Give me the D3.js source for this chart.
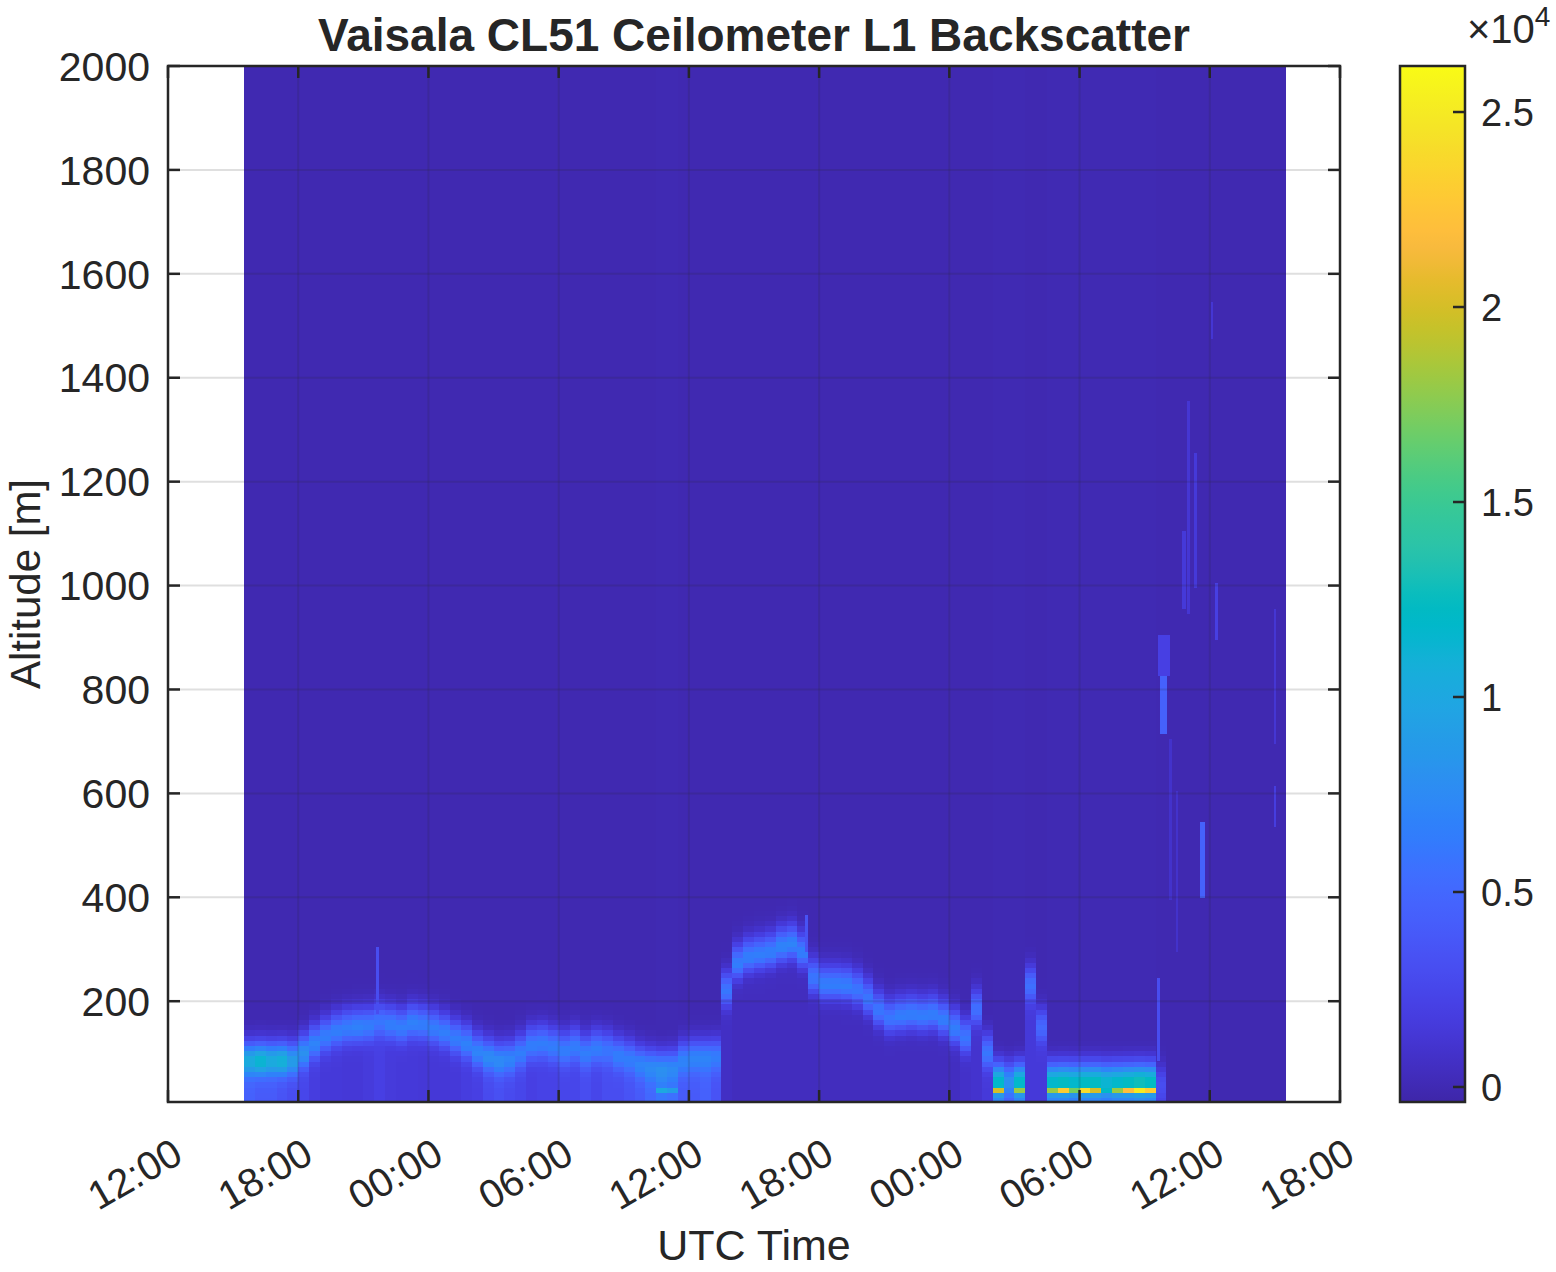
<!DOCTYPE html>
<html><head><meta charset="utf-8">
<script src="https://cdn.jsdelivr.net/npm/d3@7/dist/d3.min.js"></script>
<style>
body{margin:0;background:#fff}
text{font-family:"Liberation Sans",Arial,Helvetica,sans-serif;fill:#262626}
</style>
</head><body>
<svg id="chart" width="1556" height="1272"></svg>
<script>
// ---- DATA ----
// column start times, hours since 00:00 of day 1 (30-min profiles)
const timeHours = [15.5,16,16.5,17,17.5,18,18.5,19,19.5,20,20.5,21,21.5,22,22.5,23,23.5,24,24.5,25,25.5,26,26.5,27,27.5,28,28.5,29,29.5,30,30.5,31,31.5,32,32.5,33,33.5,34,34.5,35,35.5,36,36.5,37,37.5,38,38.5,39,39.5,40,40.5,41,41.5,42,42.5,43,43.5,44,44.5,45,45.5,46,46.5,47,47.5,48,48.5,49,49.5,50,50.5,51,51.5,52,52.5,53,53.5,54,54.5,55,55.5,56,56.5,57,57.5,58,58.5,59,59.5,60,60.5,61,61.5,62,62.5,63];
const colWidthHours = 0.5;
// aerosol / boundary layer height (m)
const layerHeight = [85,85,85,85,85,100,118,132,142,148,150,152,160,155,150,158,155,148,140,128,118,102,92,85,88,100,115,118,112,105,112,100,108,105,95,88,78,72,68,70,85,90,90,92,220,272,285,290,295,305,310,295,245,232,232,230,222,205,182,168,172,175,172,175,165,148,130,185,100,45,45,45,230,150,45,45,45,45,45,45,45,45,45,45,40,null,null,null,null,null,null,null,null,null,null,null];
// backscatter at the layer
const layerPeak = [10500,11500,10500,11000,9000,8000,7000,6500,6500,6500,6800,6500,6000,6500,6500,6800,6500,6500,6500,6500,6800,7000,7500,7500,7000,6500,6500,6500,6500,6500,6500,6500,6500,6000,6500,6500,7000,7500,8000,7500,7000,7000,7000,6500,6000,6500,6500,6500,6500,7000,7000,6500,6000,6500,6500,6500,6000,6000,6000,6000,6500,6500,6500,6500,6500,6500,6000,5500,6000,12000,8000,12000,5500,5000,12000,12500,12000,12500,12500,11500,12000,12500,13000,12500,3000,0,0,0,0,0,0,0,0,0,0,0];
// backscatter below the layer, down to the ground
const belowValue = [4500,4000,4000,3500,3000,2500,1800,1500,1500,1400,1400,1600,2000,1600,1500,1500,1400,1400,1400,1500,1800,2000,2800,3200,2800,2500,2000,2200,2200,2500,2500,3000,2500,3000,3000,3500,4000,5000,6000,5500,4000,4000,4500,3500,600,400,400,400,400,400,400,400,400,400,400,400,400,400,400,400,400,400,400,400,400,500,800,1000,1500,6000,4000,6000,1500,1500,6000,6000,5500,6000,6000,5500,6000,6000,6500,6000,2000,0,0,0,0,0,0,0,0,0,0,0];
// near-surface fog peak (30 m gate)
const surfacePeak = [0,0,0,0,0,0,0,0,0,0,0,0,0,0,0,0,0,0,0,0,0,0,0,0,0,0,0,0,0,0,0,0,0,0,0,0,0,0,10000,9000,0,0,0,0,0,0,0,0,0,0,0,0,0,0,0,0,0,0,0,0,0,0,0,0,0,0,0,0,0,20000,6000,18000,0,0,18000,23000,17000,24000,20000,12000,18000,22000,25000,23000,0,0,0,0,0,0,0,0,0,0,0,0];
const backgroundValue = -60;
// isolated faint plumes / streaks: start h, end h, bottom m, top m, value
const plumeStart  = [57.70,57.60,58.95,59.25,59.55,60.06,60.26,62.95,62.95,58.70,57.57,58.10,58.45,21.58,41.35];
const plumeEnd    = [58.05,58.15,59.10,59.40,59.80,60.16,60.40,63.05,63.05,58.90,57.71,58.25,58.55,21.72,41.50];
const plumeBottom = [720,830,950,1000,404,1480,900,700,540,960,90,400,300,180,300];
const plumeTop    = [830,900,1350,1250,540,1540,1000,950,610,1100,240,700,600,300,360];
const plumeValue  = [4500,2000,1200,1500,4500,1200,2000,1200,1800,1500,3000,900,900,3000,3500];
// axis ticks
const xTickHours = [12,18,24,30,36,42,48,54,60,66];
const xTickLabels = ["12:00","18:00","00:00","06:00","12:00","18:00","00:00","06:00","12:00","18:00"];
const yTicks = [200,400,600,800,1000,1200,1400,1600,1800,2000];
const cTicks = [0,5000,10000,15000,20000,25000];
const cTickLabels = ["0","0.5","1","1.5","2","2.5"];
const colorDomain = [-385, 26180];
const parula = [[0.2422,0.1504,0.6603],[0.2504,0.1650,0.7076],[0.2578,0.1818,0.7511],[0.2647,0.1978,0.7952],[0.2706,0.2147,0.8364],[0.2751,0.2342,0.8710],[0.2783,0.2559,0.8991],[0.2803,0.2782,0.9221],[0.2813,0.3006,0.9414],[0.2810,0.3228,0.9579],[0.2795,0.3447,0.9717],[0.2760,0.3667,0.9829],[0.2699,0.3892,0.9906],[0.2602,0.4123,0.9952],[0.2440,0.4358,0.9988],[0.2206,0.4603,0.9973],[0.1963,0.4847,0.9892],[0.1834,0.5074,0.9798],[0.1786,0.5289,0.9682],[0.1764,0.5499,0.9520],[0.1687,0.5703,0.9359],[0.1540,0.5902,0.9218],[0.1460,0.6091,0.9079],[0.1380,0.6276,0.8973],[0.1248,0.6459,0.8883],[0.1113,0.6635,0.8763],[0.0952,0.6798,0.8598],[0.0689,0.6948,0.8394],[0.0297,0.7082,0.8163],[0.0036,0.7203,0.7917],[0.0067,0.7312,0.7660],[0.0433,0.7411,0.7394],[0.0964,0.7500,0.7120],[0.1408,0.7584,0.6842],[0.1717,0.7670,0.6554],[0.1938,0.7758,0.6251],[0.2161,0.7843,0.5923],[0.2470,0.7918,0.5567],[0.2906,0.7973,0.5188],[0.3406,0.8008,0.4789],[0.3909,0.8029,0.4354],[0.4456,0.8024,0.3909],[0.5044,0.7993,0.3480],[0.5616,0.7942,0.3045],[0.6174,0.7876,0.2612],[0.6720,0.7793,0.2227],[0.7242,0.7698,0.1910],[0.7738,0.7598,0.1646],[0.8203,0.7498,0.1535],[0.8634,0.7406,0.1596],[0.9035,0.7330,0.1774],[0.9393,0.7288,0.2100],[0.9728,0.7298,0.2394],[0.9956,0.7434,0.2371],[0.9970,0.7659,0.2199],[0.9952,0.7893,0.2028],[0.9892,0.8136,0.1885],[0.9786,0.8386,0.1766],[0.9676,0.8639,0.1643],[0.9610,0.8890,0.1537],[0.9597,0.9135,0.1423],[0.9628,0.9373,0.1265],[0.9691,0.9606,0.1064],[0.9769,0.9839,0.0805]];

// ---- LAYOUT ----
const P = {left:168, right:1340, top:66, bottom:1102};
const CB = {left:1400, right:1465, top:66, bottom:1102};
const ink = "#262626";
const svg = d3.select("#chart");
svg.append("rect").attr("width",1556).attr("height",1272).attr("fill","#fff");

const x = d3.scaleLinear().domain([12,66]).range([P.left,P.right]);
const y = d3.scaleLinear().domain([6,2000]).range([P.bottom,P.top]);
const parulaColors = parula.map(c=>d3.rgb(c[0]*255,c[1]*255,c[2]*255).toString());
const color = d3.scaleLinear()
  .domain(parulaColors.map((_,i)=>colorDomain[0]+i*(colorDomain[1]-colorDomain[0])/63))
  .range(parulaColors).clamp(true);

// range gates of the instrument (10 m)
const gates = d3.range(10, 2001, 10);
const wDown = 27, wUp = 36;
function gauss(d,w){ return Math.exp(-Math.pow(d/w,2)); }
function cellValue(i,g){
  let v = backgroundValue;
  const h = layerHeight[i];
  if (h != null){
    const pk = layerPeak[i], b = belowValue[i];
    const lv = g <= h ? b + (pk-b)*gauss(g-h,wDown)
                      : backgroundValue + (pk-backgroundValue)*gauss(g-h,wUp);
    v = Math.max(v, lv);
  }
  const s = surfacePeak[i];
  if (s > 0) v = Math.max(v, s*gauss(g-30,8));
  return v;
}
const cells = [];
timeHours.forEach((t,i)=>{ gates.forEach(g=>cells.push({t,g,v:cellValue(i,g)})); });

svg.append("clipPath").attr("id","plotclip").append("rect")
  .attr("x",P.left).attr("y",P.top).attr("width",P.right-P.left).attr("height",P.bottom-P.top);
const img = svg.append("g").attr("clip-path","url(#plotclip)").attr("shape-rendering","crispEdges");
img.selectAll("rect.cell").data(cells).join("rect").attr("class","cell")
  .attr("x",d=>x(d.t)).attr("width",d=>x(d.t+colWidthHours)-x(d.t)+0.6)
  .attr("y",d=>y(d.g+5)).attr("height",d=>y(d.g-5)-y(d.g+5)+0.6)
  .attr("fill",d=>color(d.v));
const plumes = plumeStart.map((s,i)=>({s,e:plumeEnd[i],b:plumeBottom[i],tp:plumeTop[i],v:plumeValue[i]}));
img.selectAll("rect.plume").data(plumes).join("rect").attr("class","plume")
  .attr("x",d=>x(d.s)).attr("width",d=>x(d.e)-x(d.s))
  .attr("y",d=>y(d.tp+5)).attr("height",d=>y(d.b-5)-y(d.tp+5))
  .attr("fill",d=>color(d.v));

// grid
const grid = svg.append("g").attr("stroke",ink).attr("stroke-opacity",0.15).attr("stroke-width",2);
xTickHours.forEach(h=>grid.append("line").attr("x1",x(h)).attr("x2",x(h)).attr("y1",P.top).attr("y2",P.bottom));
yTicks.forEach(v=>grid.append("line").attr("x1",P.left).attr("x2",P.right).attr("y1",y(v)).attr("y2",y(v)));

// axes box + ticks
const ax = svg.append("g").attr("stroke",ink).attr("stroke-width",2.5).attr("fill","none");
ax.append("rect").attr("x",P.left).attr("y",P.top).attr("width",P.right-P.left).attr("height",P.bottom-P.top);
const TL = 12;
xTickHours.forEach(h=>{
  ax.append("line").attr("x1",x(h)).attr("x2",x(h)).attr("y1",P.bottom).attr("y2",P.bottom-TL);
  ax.append("line").attr("x1",x(h)).attr("x2",x(h)).attr("y1",P.top).attr("y2",P.top+TL);
});
yTicks.forEach(v=>{
  ax.append("line").attr("x1",P.left).attr("x2",P.left+TL).attr("y1",y(v)).attr("y2",y(v));
  ax.append("line").attr("x1",P.right).attr("x2",P.right-TL).attr("y1",y(v)).attr("y2",y(v));
});

// tick labels
xTickHours.forEach((h,i)=>{
  svg.append("text").attr("transform",`translate(${x(h)+17},${1161}) rotate(-30)`)
    .attr("text-anchor","end").attr("font-size",40).text(xTickLabels[i]);
});
yTicks.forEach(v=>{
  svg.append("text").attr("x",150).attr("y",y(v)).attr("dy","0.36em")
    .attr("text-anchor","end").attr("font-size",41).text(v);
});

// titles
svg.append("text").attr("x",(P.left+P.right)/2).attr("y",51).attr("text-anchor","middle")
  .attr("font-size",46).attr("font-weight","bold").text("Vaisala CL51 Ceilometer L1 Backscatter");
svg.append("text").attr("x",(P.left+P.right)/2).attr("y",1260).attr("text-anchor","middle")
  .attr("font-size",43).text("UTC Time");
svg.append("text").attr("transform",`translate(40,${(P.top+P.bottom)/2}) rotate(-90)`)
  .attr("text-anchor","middle").attr("font-size",42).text("Altitude [m]");

// colorbar
const grad = svg.append("defs").append("linearGradient").attr("id","parulaGrad")
  .attr("x1",0).attr("y1",1).attr("x2",0).attr("y2",0);
parulaColors.forEach((c,i)=>grad.append("stop").attr("offset",i/63).attr("stop-color",c));
const cy = d3.scaleLinear().domain(colorDomain).range([CB.bottom,CB.top]);
svg.append("rect").attr("x",CB.left).attr("y",CB.top).attr("width",CB.right-CB.left)
  .attr("height",CB.bottom-CB.top).attr("fill","url(#parulaGrad)");
svg.append("rect").attr("x",CB.left).attr("y",CB.top).attr("width",CB.right-CB.left)
  .attr("height",CB.bottom-CB.top).attr("fill","none").attr("stroke",ink).attr("stroke-width",2.5);
cTicks.forEach((v,i)=>{
  svg.append("line").attr("x1",CB.right).attr("x2",CB.right-TL).attr("y1",cy(v)).attr("y2",cy(v))
    .attr("stroke",ink).attr("stroke-width",2.5);
  svg.append("text").attr("x",1481).attr("y",cy(v)).attr("dy","0.36em").attr("font-size",38).text(cTickLabels[i]);
});
const mult = svg.append("text").attr("x",1467).attr("y",43).attr("font-size",40);
mult.append("tspan").text("\u00d710");
mult.append("tspan").attr("font-size",28).attr("dy",-17).text("4");
</script>
</body></html>
